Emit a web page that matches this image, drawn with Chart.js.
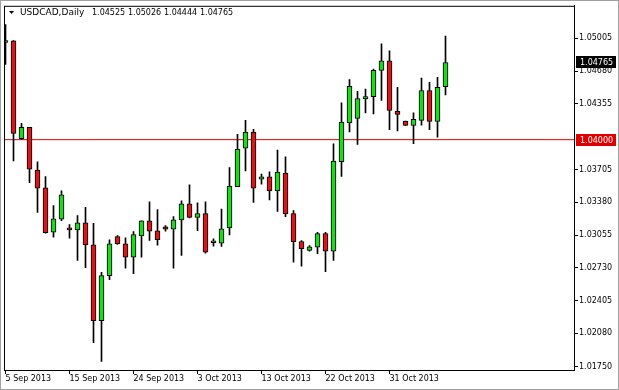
<!DOCTYPE html>
<html>
<head>
<meta charset="utf-8">
<script src="https://cdn.jsdelivr.net/npm/chart.js@4.4.0/dist/chart.umd.min.js"></script>
<style>
  body { margin: 0; background: #fff; }
  canvas { display: block; }
</style>
</head>
<body>
<canvas id="chart" width="619" height="390"></canvas>
<script>
// daily bars, Sunday sessions included (MT4 style)
let dates = ['5 Sep 2013', '6 Sep 2013', '8 Sep 2013', '9 Sep 2013', '10 Sep 2013', '11 Sep 2013', '12 Sep 2013', '13 Sep 2013',
    '15 Sep 2013', '16 Sep 2013', '17 Sep 2013', '18 Sep 2013', '19 Sep 2013', '20 Sep 2013', '22 Sep 2013', '23 Sep 2013',
    '24 Sep 2013', '25 Sep 2013', '26 Sep 2013', '27 Sep 2013', '29 Sep 2013', '30 Sep 2013', '1 Oct 2013', '2 Oct 2013',
    '3 Oct 2013', '4 Oct 2013', '6 Oct 2013', '7 Oct 2013', '8 Oct 2013', '9 Oct 2013', '10 Oct 2013', '11 Oct 2013',
    '13 Oct 2013', '14 Oct 2013', '15 Oct 2013', '16 Oct 2013', '17 Oct 2013', '18 Oct 2013', '20 Oct 2013', '21 Oct 2013',
    '22 Oct 2013', '23 Oct 2013', '24 Oct 2013', '25 Oct 2013', '27 Oct 2013', '28 Oct 2013', '29 Oct 2013', '30 Oct 2013',
    '31 Oct 2013', '1 Nov 2013', '3 Nov 2013', '4 Nov 2013', '5 Nov 2013', '6 Nov 2013', '7 Nov 2013', '8 Nov 2013'];

let opens = [1.04963, 1.04979, 1.04009, 1.04122, 1.03698, 1.03523, 1.03082, 1.03211,
    1.03126, 1.03106, 1.03175, 1.02958, 1.02205, 1.02652, 1.03040, 1.02968,
    1.02836, 1.03047, 1.03195, 1.03096, 1.03136, 1.03112, 1.03205, 1.03363,
    1.03230, 1.03267, 1.02978, 1.02974, 1.03126, 1.03533, 1.03915, 1.04075,
    1.03609, 1.03632, 1.03491, 1.03668, 1.03267, 1.02991, 1.02902, 1.02935,
    1.03070, 1.02895, 1.03783, 1.04167, 1.04210, 1.04404, 1.04427, 1.04687,
    1.04782, 1.04282, 1.04184, 1.04141, 1.04191, 1.04487, 1.04181, 1.04525];
let highs = [1.05140, 1.04982, 1.04161, 1.04122, 1.03780, 1.03635, 1.03346, 1.03494,
    1.03158, 1.03247, 1.03329, 1.03171, 1.02685, 1.03008, 1.03050, 1.03027,
    1.03089, 1.03195, 1.03385, 1.03306, 1.03149, 1.03237, 1.03395, 1.03553,
    1.03375, 1.03385, 1.03017, 1.03313, 1.03723, 1.04053, 1.04191, 1.04102,
    1.03658, 1.03681, 1.03898, 1.03829, 1.03296, 1.03001, 1.02951, 1.03082,
    1.03082, 1.03960, 1.04364, 1.04595, 1.04480, 1.04502, 1.04700, 1.04950,
    1.04881, 1.04519, 1.04184, 1.04266, 1.04611, 1.04568, 1.04618, 1.05026];
let lows = [1.04746, 1.03789, 1.04003, 1.03575, 1.03280, 1.03073, 1.03033, 1.03198,
    1.03023, 1.02803, 1.02731, 1.01988, 1.01801, 1.02613, 1.02961, 1.02727,
    1.02672, 1.02836, 1.03001, 1.02954, 1.03092, 1.02727, 1.02853, 1.03224,
    1.03099, 1.02875, 1.02944, 1.02941, 1.03057, 1.03533, 1.03691, 1.03378,
    1.03560, 1.03402, 1.03290, 1.03237, 1.02787, 1.02747, 1.02895, 1.02870,
    1.02692, 1.02803, 1.03635, 1.04078, 1.03954, 1.04266, 1.04256, 1.04388,
    1.04098, 1.04088, 1.04141, 1.03960, 1.04144, 1.04098, 1.04026, 1.04444];
let closes = [1.04982, 1.04062, 1.04122, 1.03708, 1.03520, 1.03079, 1.03215, 1.03454,
    1.03106, 1.03175, 1.02958, 1.02205, 1.02652, 1.02968, 1.02968, 1.02836,
    1.03060, 1.03195, 1.03092, 1.03008, 1.03112, 1.03205, 1.03363, 1.03230,
    1.03267, 1.02885, 1.02980, 1.03116, 1.03540, 1.03908, 1.04075, 1.03520,
    1.03632, 1.03491, 1.03678, 1.03264, 1.02988, 1.02919, 1.02938, 1.03070,
    1.02895, 1.03789, 1.04174, 1.04529, 1.04408, 1.04427, 1.04687, 1.04782,
    1.04289, 1.04250, 1.04141, 1.04201, 1.04487, 1.04181, 1.04519, 1.04765];

let priceTicks = [1.01750, 1.02080, 1.02405, 1.02730, 1.03055, 1.03380, 1.03705, 1.04355, 1.04680, 1.05005];
let levelLine = 1.04000;
let symbolTitle = 'USDCAD,Daily';

let xMin = -0.1875, xMax = 71.0625;
let bull = '#1fd81f', bear = '#d81818';

let wicks = lows.map((l, i) => ({x: i, y: [l, highs[i]]}));
let bodies = opens.map((o, i) => ({x: i, y: [o, closes[i]]}));
let bodyColors = opens.map((o, i) => closes[i] >= o ? bull : bear);

let last = closes.length - 1;

let mtPlugin = {
    id: 'mt',
    afterDraw(chart) {
        let c = chart.ctx, a = chart.chartArea;
        let ys = chart.scales.y;
        c.save();
        // outer frame
        c.strokeStyle = '#a0a0a0';
        c.lineWidth = 1;
        c.strokeRect(0.5, 0.5, 618, 389);
        // plot frame
        c.strokeStyle = '#000';
        c.strokeRect(a.left + 0.5, a.top + 0.5, a.right - a.left, a.bottom - a.top);

        c.font = '8px "DejaVu Sans"';
        c.textBaseline = 'middle';
        // price boxes on the right
        let box = (v, bg) => {
            let py = Math.round(ys.getPixelForValue(v));
            c.fillStyle = bg;
            c.fillRect(576, py - 6, 40, 12);
            c.fillStyle = '#fff';
            c.textAlign = 'left';
            c.fillText(v.toFixed(5), 580, py + 0.5);
        };
        box(levelLine, '#e00000');
        box(closes[last], '#000');

        // header: arrow, symbol, last bar OHLC
        c.fillStyle = '#000';
        c.beginPath();
        c.moveTo(9, 11); c.lineTo(14, 11); c.lineTo(11.5, 14); c.closePath();
        c.fill();
        c.textAlign = 'left';
        c.font = '9px "DejaVu Sans"';
        c.fillText(symbolTitle, 20, 13);
        c.font = '8px "DejaVu Sans"';
        let ohlc = [opens[last], highs[last], lows[last], closes[last]];
        ohlc.forEach((v, k) => c.fillText(v.toFixed(5), 92 + k * 36, 13));
        c.restore();
    }
};

let ctx = document.getElementById('chart').getContext('2d');
let myChart = new Chart(ctx, {
    type: 'bar',
    data: {
        datasets: [{
            type: 'line',
            data: [{x: xMin, y: levelLine}, {x: xMax, y: levelLine}],
            borderColor: '#e00000',
            borderWidth: 1,
            pointRadius: 0,
            order: 3
        }, {
            data: wicks,
            backgroundColor: '#000',
            barThickness: 1,
            grouped: false,
            order: 2
        }, {
            data: bodies,
            backgroundColor: bodyColors,
            borderColor: '#000',
            borderWidth: 1,
            borderSkipped: false,
            barThickness: 5,
            minBarLength: 2,
            grouped: false,
            order: 1
        }]
    },
    options: {
        responsive: false,
        animation: false,
        layout: { padding: { left: 4, top: 4 } },
        plugins: { legend: { display: false }, tooltip: { enabled: false } },
        scales: {
            x: {
                type: 'linear',
                offset: false,
                min: xMin,
                max: xMax,
                afterBuildTicks: s => { s.ticks = [0, 8, 16, 24, 32, 40, 48].map(v => ({value: v})); },
                afterFit: s => { s.height = 20; },
                grid: { offset: false, drawOnChartArea: false, tickLength: 4, color: '#000' },
                border: { color: '#000' },
                ticks: {
                    align: 'start',
                    padding: 0,
                    maxRotation: 0,
                    autoSkip: false,
                    color: '#000',
                    font: { family: 'DejaVu Sans', size: 8 },
                    callback: v => dates[v]
                }
            },
            y: {
                position: 'right',
                min: 1.01717,
                max: 1.05327,
                afterBuildTicks: s => { s.ticks = priceTicks.map(v => ({value: v})); },
                afterFit: s => { s.width = 45; },
                grid: { drawOnChartArea: false, tickLength: 4, color: '#000' },
                border: { color: '#000' },
                ticks: {
                    padding: 1,
                    color: '#000',
                    font: { family: 'DejaVu Sans', size: 8 },
                    callback: v => v.toFixed(5)
                }
            }
        }
    },
    plugins: [mtPlugin]
});
</script>
</body>
</html>
